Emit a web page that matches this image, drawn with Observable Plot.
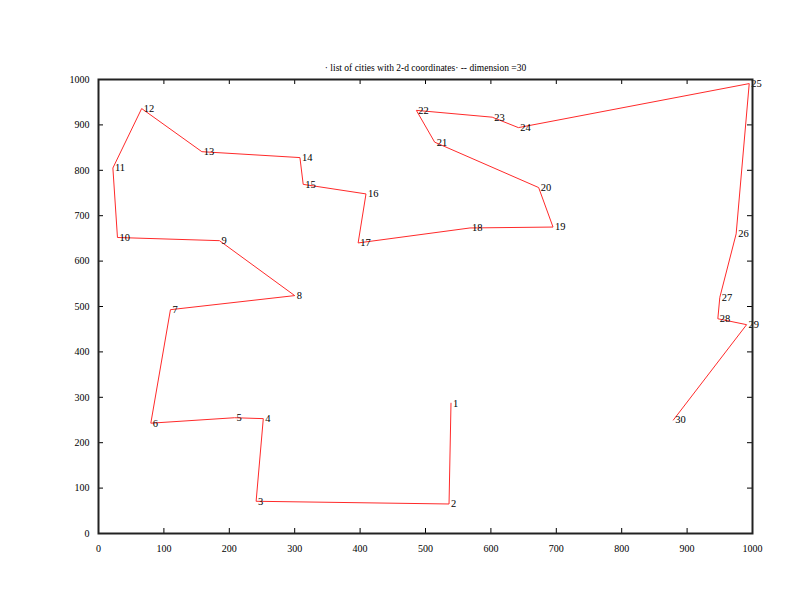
<!DOCTYPE html>
<html>
<head>
<meta charset="utf-8">
<script src="https://cdn.jsdelivr.net/npm/d3@7"></script>
<script src="https://cdn.jsdelivr.net/npm/@observablehq/plot@0.6"></script>
<style>
  html, body { margin: 0; padding: 0; background: #fff; }
  svg { display: block; }
</style>
</head>
<body>
<div id="chart"></div>
<script>
const cityIds = [1,2,3,4,5,6,7,8,9,10,11,12,13,14,15,16,17,18,19,20,21,22,23,24,25,26,27,28,29,30];
const cityX = [539,536,241,252,208,80,110,300,185,29,22,66,158,308,313,409,397,568,695,673,514,486,602,642,995,975,950,947,991,879];
const cityY = [287,65,71,253,255,243,493,524,645,652,805,936,841,828,769,748,640,673,675,762,862,932,917,894,991,660,520,473,460,250];
const xTicks = [0,100,200,300,400,500,600,700,800,900,1000];
const yTicks = [0,100,200,300,400,500,600,700,800,900,1000];
const title = "· list of cities with 2-d coordinates· -- dimension =30";

const cities = cityIds.map((id, i) => ({id, x: cityX[i], y: cityY[i]}));

const W = 792, H = 612;
const mL = 98, mR = 40, mT = 79, mB = 79;
const pw = W - mL - mR, ph = H - mT - mB;
const tk = 5;
const font = "'Liberation Serif', 'DejaVu Serif', serif";

const chart = Plot.plot({
  width: W,
  height: H,
  marginLeft: mL,
  marginRight: mR,
  marginTop: mT,
  marginBottom: mB,
  style: {fontFamily: font, fontSize: "10px", color: "#000", background: "#fff"},
  x: {domain: [0, 1000], label: null},
  y: {domain: [0, 1000], label: null},
  marks: [
    Plot.axisX(xTicks, {tickSize: 0, tickPadding: 11, fontSize: 10, fill: "#000", label: null, tickFormat: d => String(d)}),
    Plot.axisY(yTicks, {tickSize: 0, tickPadding: 9, fontSize: 10, fill: "#000", label: null, tickFormat: d => String(d)}),
    Plot.tickX(xTicks, {x: d => d, insetTop: ph - tk, stroke: "#000", strokeWidth: 1}),
    Plot.tickX(xTicks, {x: d => d, insetBottom: ph - tk, stroke: "#000", strokeWidth: 1}),
    Plot.tickY(yTicks, {y: d => d, insetRight: pw - tk, stroke: "#000", strokeWidth: 1}),
    Plot.tickY(yTicks, {y: d => d, insetLeft: pw - tk, stroke: "#000", strokeWidth: 1}),
    Plot.line(cities, {x: "x", y: "y", stroke: "#ff2a2a", strokeWidth: 1}),
    Plot.text(cities, {x: "x", y: "y", text: d => String(d.id), textAnchor: "start", dx: 2, fontSize: 10.5, fill: "#000"}),
    Plot.frame({stroke: "#222", strokeWidth: 2}),
    Plot.text([title], {frameAnchor: "top", dy: -15, text: d => d, fontSize: 9.5, fill: "#000"})
  ]
});
document.getElementById("chart").appendChild(chart);
</script>
</body>
</html>
